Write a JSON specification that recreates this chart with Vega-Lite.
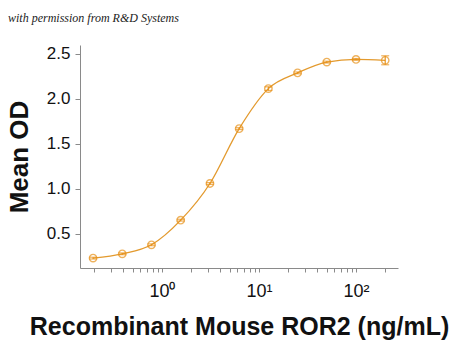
{
  "$schema": "https://vega.github.io/schema/vega-lite/v6.json",
  "width": 318,
  "height": 223,
  "autosize": {"type": "none"},
  "padding": {"left": 80, "top": 45, "right": 52, "bottom": 75},
  "background": "white",
  "title": {
    "text": "with permission from R&D Systems",
    "anchor": "start",
    "frame": "group",
    "dx": -72,
    "offset": 20,
    "font": "Liberation Serif",
    "fontStyle": "italic",
    "fontWeight": "normal",
    "fontSize": 12,
    "color": "#222"
  },
  "config": {
    "view": {"stroke": null},
    "axis": {
      "domainColor": "#8a8a8a",
      "tickColor": "#8a8a8a",
      "grid": false,
      "labelFont": "Liberation Sans",
      "labelFontSize": 17,
      "labelColor": "#111",
      "titleFont": "Liberation Sans",
      "titleFontWeight": "bold",
      "titleColor": "#111"
    }
  },
  "data": {
    "values": [
      {"conc": 0.195, "od": 0.23, "err": 0.01},
      {"conc": 0.39, "od": 0.278, "err": 0.01},
      {"conc": 0.78, "od": 0.378, "err": 0.01},
      {"conc": 1.56, "od": 0.652, "err": 0.01},
      {"conc": 3.125, "od": 1.06, "err": 0.01},
      {"conc": 6.25, "od": 1.67, "err": 0.01},
      {"conc": 12.5, "od": 2.115, "err": 0.02},
      {"conc": 25, "od": 2.29, "err": 0.01},
      {"conc": 50, "od": 2.41, "err": 0.01},
      {"conc": 100, "od": 2.44, "err": 0.01},
      {"conc": 200, "od": 2.43, "err": 0.05}
    ]
  },
  "encoding": {
    "x": {
      "field": "conc",
      "type": "quantitative",
      "scale": {"type": "log", "domain": [0.143, 271], "nice": false},
      "axis": {
        "title": "Recombinant Mouse ROR2 (ng/mL)",
        "titleFontSize": 25,
        "values": [0.2,0.3,0.4,0.5,0.6,0.7,0.8,0.9,1,2,3,4,5,6,7,8,9,10,20,30,40,50,60,70,80,90,100,200],
        "labelExpr": "datum.value == 1 ? '10⁰' : datum.value == 10 ? '10¹' : datum.value == 100 ? '10²' : ''",
        "labelFontSize": 18,
        "tickSize": 4,
        "labelPadding": 10,
        "titlePadding": 14,
        "labelFlush": false,
        "labelOverlap": false
      }
    },
    "y": {
      "field": "od",
      "type": "quantitative",
      "scale": {"domain": [0.12, 2.6], "nice": false, "zero": false},
      "axis": {
        "title": "Mean OD",
        "titleFontSize": 26,
        "values": [0.5, 1.0, 1.5, 2.0, 2.5],
        "format": ".1f",
        "tickSize": 5,
        "labelPadding": 5,
        "titlePadding": 14
      }
    }
  },
  "layer": [
    {
      "mark": {"type": "line", "interpolate": "monotone", "color": "#E39A2E", "strokeWidth": 1.3}
    },
    {
      "mark": {"type": "rule", "color": "#E8921A", "strokeWidth": 1.2},
      "encoding": {
        "y": {"field": "lo", "type": "quantitative"},
        "y2": {"field": "hi"}
      },
      "transform": [
        {"calculate": "datum.od - datum.err", "as": "lo"},
        {"calculate": "datum.od + datum.err", "as": "hi"}
      ]
    },
    {
      "mark": {"type": "tick", "orient": "horizontal", "color": "#E8921A", "size": 8, "thickness": 1.2},
      "transform": [{"calculate": "datum.od - datum.err", "as": "lo"}],
      "encoding": {"y": {"field": "lo", "type": "quantitative"}}
    },
    {
      "mark": {"type": "tick", "orient": "horizontal", "color": "#E8921A", "size": 8, "thickness": 1.2},
      "transform": [{"calculate": "datum.od + datum.err", "as": "hi"}],
      "encoding": {"y": {"field": "hi", "type": "quantitative"}}
    },
    {
      "mark": {"type": "point", "shape": "circle", "filled": false, "color": "#E8921A", "size": 55, "strokeWidth": 1.4}
    }
  ]
}
